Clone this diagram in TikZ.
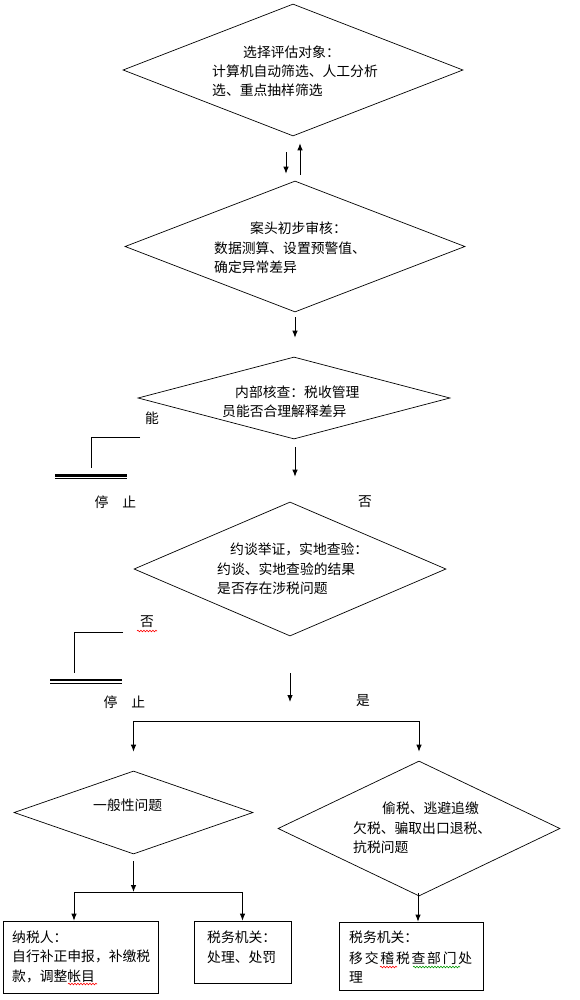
\documentclass[tikz,border=0pt]{standalone}
\usepackage{fontspec}
\newfontfamily\cjk{Noto Sans CJK SC}
\usetikzlibrary{shapes.geometric,arrows.meta,decorations.pathmorphing}
\begin{document}
\begin{tikzpicture}[x=1pt,y=-1pt,
  dia/.style={draw, shape=diamond, inner sep=0pt, line width=0.7pt},
  box/.style={draw, rectangle, inner sep=0pt, line width=0.8pt},
  txt/.style={anchor=west, inner sep=0pt, font=\cjk\fontsize{13.8}{16}\selectfont},
  lbl/.style={inner sep=0pt, font=\cjk\fontsize{13.8}{16}\selectfont},
  arr/.style={-{Latex[length=7pt,width=5.5pt]}, line width=0.8pt},
  arrb/.style={{Latex[length=7pt,width=5.5pt]}-{Latex[length=7pt,width=5.5pt]}, line width=0.8pt},
  wavy/.style={decorate, decoration={snake, amplitude=0.8pt, segment length=3pt}, line width=0.6pt}
]
\useasboundingbox (0,0) rectangle (580,1000);

% diamonds
\node[dia, minimum width=340pt, minimum height=132pt] (d1) at (293,70) {};
\node[dia, minimum width=340pt, minimum height=131pt] (d2) at (295,246.5) {};
\node[dia, minimum width=312pt, minimum height=82pt] (d3) at (294,398) {};
\node[dia, minimum width=312pt, minimum height=134pt] (d4) at (290,569) {};
\node[dia, minimum width=239pt, minimum height=83pt] (d5) at (133.5,812.5) {};
\node[dia, minimum width=282pt, minimum height=135pt] (d6) at (419,828.5) {};

% boxes
\node[box, minimum width=155pt, minimum height=72pt] (b1) at (80.5,957) {};
\node[box, minimum width=97pt, minimum height=62pt] (b2) at (242.5,952) {};
\node[box, minimum width=144pt, minimum height=68pt] (b3) at (411,956) {};

% texts in diamonds
\node[txt] (t1a) at (243,52) {选择评估对象：};
\node[txt] (t1b) at (212,71) {计算机自动筛选、人工分析};
\node[txt] (t1c) at (212,90) {选、重点抽样筛选};

\node[txt] (t2a) at (250,228) {案头初步审核：};
\node[txt] (t2b) at (214,248) {数据测算、设置预警值、};
\node[txt] (t2c) at (214,267) {确定异常差异};

\node[txt] (t3a) at (235,392) {内部核查：税收管理};
\node[txt] (t3b) at (222,411) {员能否合理解释差异};

\node[txt] (t4a) at (230,549) {约谈举证，实地查验：};
\node[txt] (t4b) at (217,569) {约谈、实地查验的结果};
\node[txt] (t4c) at (217,588) {是否存在涉税问题};

\node[txt] (t5a) at (93,805) {一般性问题};

\node[txt] (t6a) at (382,808) {偷税、逃避追缴};
\node[txt] (t6b) at (353,828) {欠税、骗取出口退税、};
\node[txt] (t6c) at (353,847) {抗税问题};

% texts in boxes
\node[txt] (tb1a) at (12,937) {纳税人：};
\node[txt] (tb1b) at (12,956) {自行补正申报，补缴税};
\node[txt] (tb1c) at (12,976) {款，调整帐目};
\node[txt] (tb2a) at (207,937) {税务机关：};
\node[txt] (tb2b) at (207,957) {处理、处罚};
\node[txt] (tb3a) at (349,937) {税务机关：};
\node[txt] (tb3b) at (349,958) {移\kern1.8pt 交\kern1.8pt 稽\kern1.8pt 税\kern1.8pt 查\kern1.8pt 部\kern1.8pt 门\kern1.8pt 处};
\node[txt] (tb3c) at (349,977) {理};

% labels
\node[lbl] (neng) at (152,418) {能};
\node[lbl] (stop1) at (115.5,502) {停\hspace{14pt}止};
\node[lbl] (fou1) at (365,502) {否};
\node[lbl] (fou2) at (147,622) {否};
\node[lbl] (stop2) at (124.5,702) {停\hspace{14pt}止};
\node[lbl] (shi) at (363,701) {是};

% spell-check underlines
\draw[wavy, red] (68,984) -- (97,984);
\draw[wavy, red] (380,967) -- (397,967);
\draw[wavy, green!60!black] (413,967) -- (460,967);
\draw[wavy, red] (137,631) -- (157,631);

% arrows between diamonds
\draw[arr] ([xshift=-7pt,yshift=-16pt]d1.south) -- ([xshift=-9pt,yshift=7pt]d2.north);
\draw[arr] ([xshift=5pt,yshift=6pt]d2.north) -- ([xshift=7pt,yshift=-7pt]d1.south);
\draw[arr] ([yshift=-5pt]d2.south) -- ([xshift=1pt,yshift=19pt]d3.north);
\draw[arr] ([xshift=1pt,yshift=-8pt]d3.south) -- ([xshift=5pt,yshift=25pt]d4.north);
\coordinate (e5) at (290,702);
\draw[arr] ([yshift=-37pt]d4.south) -- (e5);

% first branch
\coordinate (brL) at (133.5,721);
\coordinate (brR) at (419,721);
\draw[arrb] ([yshift=19pt]d5.north) -- (brL) -- (brR) -- ([yshift=9pt]d6.north);

% second branch
\coordinate (j2) at (133.5,892);
\draw[arr] ([yshift=-7pt]d5.south) -- (j2);
\draw[arrb] ([xshift=-6.5pt]b1.north) |- (j2) -| (b2.north);

\draw[arr] ([xshift=-1pt,yshift=3pt]d6.south) -- ([xshift=7pt]b3.north);

% stop brackets
\coordinate (s1a) at (140,437);
\coordinate (s1b) at (91,468);
\draw[line width=0.8pt] (s1a) -| (s1b);
\coordinate (bar1l) at (55,475.6);
\coordinate (bar1r) at (127,475.6);
\draw[line width=2.6pt] (bar1l) -- (bar1r);
\draw[line width=1pt] ([yshift=-3.3pt]bar1l) -- ([yshift=-3.3pt]bar1r);

\coordinate (s2a) at (123,632);
\coordinate (s2b) at (74,673);
\draw[line width=0.8pt] (s2a) -| (s2b);
\coordinate (bar2l) at (50,679.8);
\coordinate (bar2r) at (122,679.8);
\draw[line width=2.6pt] (bar2l) -- (bar2r);
\draw[line width=1pt] ([yshift=-3.3pt]bar2l) -- ([yshift=-3.3pt]bar2r);

\end{tikzpicture}
\end{document}
